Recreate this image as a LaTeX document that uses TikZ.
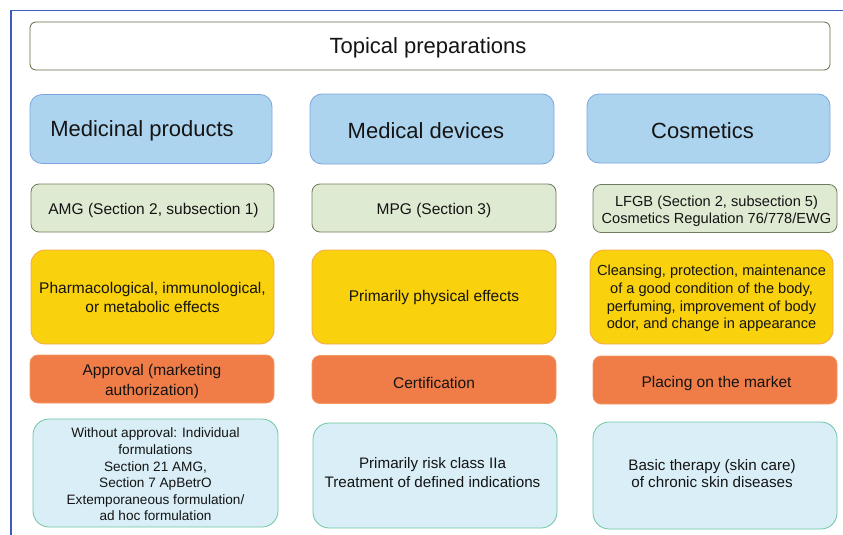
\documentclass[tikz,border=0pt]{standalone}
\usepackage{fontspec}
\setmainfont{Liberation Sans}
\definecolor{framecol}{HTML}{3A5BC0}
\definecolor{titleedge}{HTML}{5E6B42}
\definecolor{hdrfill}{HTML}{ADD4EF}
\definecolor{hdredge}{HTML}{7DA5DD}
\definecolor{lawfill}{HTML}{DFEAD2}
\definecolor{lawedge}{HTML}{6E7B5C}
\definecolor{efffill}{HTML}{F9D10C}
\definecolor{effedge}{HTML}{F3A650}
\definecolor{regfill}{HTML}{F07D47}
\definecolor{regedge}{HTML}{F29862}
\definecolor{usefill}{HTML}{D9EEF6}
\definecolor{useedge}{HTML}{6DC6A2}
\definecolor{ink}{HTML}{141414}
\tikzset{
  box/.style={draw, line width=0.8pt, inner sep=0pt},
  titlebox/.style={box, draw=titleedge, fill=white, rounded corners=6pt},
  hdrbox/.style={box, draw=hdredge, fill=hdrfill, rounded corners=12pt},
  lawbox/.style={box, draw=lawedge, fill=lawfill, rounded corners=8pt, minimum height=48pt},
  effbox/.style={box, draw=effedge, fill=efffill, rounded corners=14pt, minimum height=94pt},
  regbox/.style={box, draw=regedge, fill=regfill, rounded corners=8pt, minimum height=48pt},
  usebox/.style={box, draw=useedge, fill=usefill, rounded corners=16pt},
  txt/.style={inner sep=0pt, align=center, text=ink},
  bigtxt/.style={txt, font=\fontsize{22}{26}\selectfont},
  bodytxt/.style={txt, font=\fontsize{15.5}{19}\selectfont},
}
\begin{document}
\begin{tikzpicture}[x=1pt,y=-1pt]
\useasboundingbox (0,0) rectangle (843,535);
% outer frame lines
\draw[framecol, line width=1.2pt] (11,535) -- (11,10.5) -- (843,10.5);

% title
\node[titlebox, minimum width=800pt, minimum height=48pt] (title) at (430,46) {};
\node[bigtxt] (title-t) at ([xshift=-2pt,yshift=-2pt]title.center) {Topical preparations};

% column headers
\node[hdrbox, minimum width=242pt, minimum height=69pt] (med) at (151,129) {};
\node[hdrbox, minimum width=244pt, minimum height=70pt] (dev) at (432,129) {};
\node[hdrbox, minimum width=243pt, minimum height=69pt] (cos) at (708.5,128.5) {};
\node[bigtxt] (med-t) at ([xshift=-9pt,yshift=-2pt]med.center) {Medicinal products};
\node[bigtxt] (dev-t) at ([xshift=-6pt,yshift=-2pt]dev.center) {Medical devices};
\node[bigtxt] (cos-t) at ([xshift=-6pt,yshift=-2pt]cos.center) {Cosmetics};

% legal basis
\node[lawbox, minimum width=243pt] (lawmed) at (152.5,208) {};
\node[lawbox, minimum width=244pt] (lawdev) at (434,208) {};
\node[lawbox, minimum width=244pt] (lawcos) at (715,208.5) {};
\node[bodytxt] (lawmed-t) at ([xshift=1pt,yshift=-2.5pt]lawmed.center) {AMG (Section 2, subsection 1)};
\node[bodytxt] (lawdev-t) at ([yshift=-2pt]lawdev.center) {MPG (Section 3)};
\node[txt, font=\fontsize{14.6}{16.6}\selectfont] (lawcos-t) at ([xshift=1.5pt,yshift=-2.5pt]lawcos.center)
  {LFGB (Section 2, subsection 5)\\Cosmetics Regulation 76/778/EWG};

% effects
\node[effbox, minimum width=243pt] (effmed) at (152.5,297) {};
\node[effbox, minimum width=244pt] (effdev) at (434,297) {};
\node[effbox, minimum width=243pt] (effcos) at (711.5,297) {};
\node[bodytxt] (effmed-t) at (effmed.center) {Pharmacological, immunological,\\or metabolic effects};
\node[bodytxt] (effdev-t) at (effdev.center) {Primarily physical effects};
\node[txt, font=\fontsize{14.6}{17.8}\selectfont] (effcos-t) at ([yshift=-1.5pt]effcos.center)
  {Cleansing, protection, maintenance\\of a good condition of the body,\\perfuming, improvement of body\\odor, and change in appearance};

% market access
\node[regbox, minimum width=244pt] (regmed) at (152,379) {};
\node[regbox, minimum width=244pt] (regdev) at (434,379.5) {};
\node[regbox, minimum width=244pt] (regcos) at (715,380) {};
\node[txt, font=\fontsize{15.5}{20}\selectfont] (regmed-t) at ([yshift=-2.5pt]regmed.center) {Approval (marketing\\authorization)};
\node[bodytxt] (regdev-t) at ([yshift=-3pt]regdev.center) {Certification};
\node[bodytxt] (regcos-t) at ([xshift=1.5pt,yshift=-3pt]regcos.center) {Placing on the market};

% typical use
\node[usebox, minimum width=245pt, minimum height=108pt] (usemed) at (155.5,473) {};
\node[usebox, minimum width=244pt, minimum height=105pt] (usedev) at (435,475.5) {};
\node[usebox, minimum width=244pt, minimum height=107pt] (usecos) at (715,475.5) {};
\node[txt, font=\fontsize{13.6}{16.6}\selectfont] (usemed-t) at ([yshift=-1.5pt]usemed.center)
  {Without approval: Individual\\formulations\\Section 21 AMG,\\Section 7 ApBetrO\\Extemporaneous formulation/\\ad hoc formulation};
\node[txt, font=\fontsize{15.2}{18.3}\selectfont] (usedev-t) at ([xshift=-2.5pt,yshift=3pt]usedev.center)
  {Primarily risk class IIa\\Treatment of defined indications};
\node[txt, font=\fontsize{15.2}{16.8}\selectfont] (usecos-t) at ([xshift=-3pt,yshift=2pt]usecos.center)
  {Basic therapy (skin care)\\of chronic skin diseases};
\end{tikzpicture}
\end{document}
